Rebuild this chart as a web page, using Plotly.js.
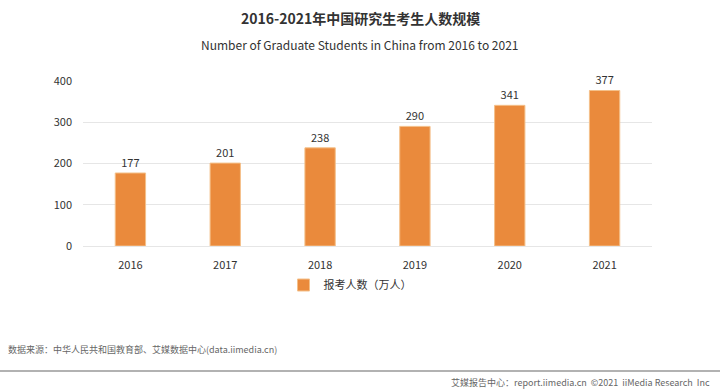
<!DOCTYPE html>
<html><head><meta charset="utf-8">
<script src="https://cdn.plot.ly/plotly-3.0.1.min.js"></script>
<style>html,body{margin:0;padding:0;background:#fff;}#c{width:720px;height:391px;}</style>
</head><body><div id="c"></div>
<script>
const years = ['2016','2017','2018','2019','2020','2021'];
const applicants = [177, 201, 238, 290, 341, 377];
const seriesName = '报考人数（万人）';
const yTicks = [0, 100, 200, 300, 400];

const F = '"Noto Sans CJK SC", "Noto Sans", sans-serif';
const data = [{
  type: 'bar', x: years, y: applicants, name: seriesName,
  marker: {color: '#EA8A3C', line: {color: '#F4C08A', width: 1}},
  width: 0.32,
  text: applicants.map(String), textposition: 'outside', cliponaxis: false,
  textfont: {family: F, size: 11, color: '#333'}
}];
const plotH = 391 - 81 - 145, plotW = 720 - 83 - 68;
const py = px => (391 - 145 - px) / plotH;  // pixel y -> paper y
const pxx = px => (px - 83) / plotW;        // pixel x -> paper x
const layout = {
  width: 720, height: 391,
  margin: {l: 83, r: 68, t: 81, b: 145},
  paper_bgcolor: '#fff', plot_bgcolor: '#fff',
  showlegend: true,
  legend: {orientation: 'h', x: pxx(350), xanchor: 'center', y: py(285), yanchor: 'middle',
    itemwidth: 30, font: {family: F, size: 11, color: '#333'}},
  xaxis: {type: 'category', tickfont: {family: F, size: 11, color: '#333'},
    showline: false, ticks: '', showgrid: false, ticklabelstandoff: 11},
  yaxis: {range: [0, 400], tickvals: yTicks, tickfont: {family: F, size: 11, color: '#333'},
    gridcolor: '#E6E6E6', gridwidth: 1, zeroline: true, zerolinecolor: '#E6E6E6',
    ticks: '', ticklabelstandoff: 10},
  annotations: [
    {text: '<b>2016-2021年中国研究生考生人数规模</b>', xref:'paper', yref:'paper', x: pxx(360), y: py(18),
     xanchor:'center', yanchor:'middle', showarrow:false, font:{family:F, size:14, color:'#333'}},
    {text: 'Number of Graduate Students in China from 2016 to 2021', xref:'paper', yref:'paper', x: pxx(360), y: py(44),
     xanchor:'center', yanchor:'middle', showarrow:false, font:{family:F, size:12, color:'#333'}},
    {text: '数据来源：中华人民共和国教育部、艾媒数据中心(data.iimedia.cn)', xref:'paper', yref:'paper', x: pxx(6), y: py(349),
     xanchor:'left', yanchor:'middle', showarrow:false, font:{family:F, size:9, color:'#666'}},
    {text: '艾媒报告中心：report.iimedia.cn  ©2021  iiMedia Research  Inc', xref:'paper', yref:'paper', x: pxx(712), y: py(382),
     xanchor:'right', yanchor:'middle', showarrow:false, font:{family:F, size:9, color:'#666'}}
  ],
  shapes: [
    {type:'line', xref:'paper', yref:'paper', x0: pxx(0), x1: pxx(720), y0: py(371), y1: py(371), line:{color:'#999', width:1.5}}
  ]
};
Plotly.newPlot('c', data, layout, {displayModeBar: false, staticPlot: true});
</script></body></html>
